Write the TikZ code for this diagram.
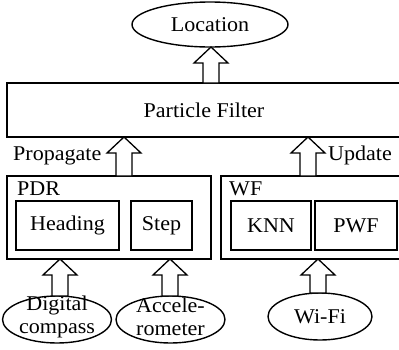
\documentclass[tikz,border=0pt]{standalone}
\usepackage{fontspec}
\setmainfont[FakeStretch=1.05]{Liberation Serif}
\usetikzlibrary{shapes.geometric,calc}
\tikzset{
  txt/.style={font=\fontsize{21}{23}\selectfont, inner sep=0pt, align=center},
  outerbox/.style={draw, line width=2.4pt, inner sep=0pt, outer sep=0pt},
  innerbox/.style={draw, line width=1.7pt, inner sep=0pt, outer sep=0pt},
  ell/.style={draw, ellipse, line width=1.4pt, inner sep=0pt, outer sep=0pt},
  blockarrow/.style={draw, line width=1.3pt, fill=white, line join=miter},
}
\newcommand\barrow[3]{%
  \draw[blockarrow] let \p1=(#2), \p2=(#3) in
    (#1pt-8pt,\y1) -- (#1pt-8pt,\y2-16pt) -- (#1pt-17pt,\y2-16pt) -- (#1pt,\y2)
    -- (#1pt+17pt,\y2-16pt) -- (#1pt+8pt,\y2-16pt) -- (#1pt+8pt,\y1) -- cycle;}
\begin{document}
\begin{tikzpicture}[x=1pt,y=-1pt]
\useasboundingbox (0,0) rectangle (399,349);
% top
\node[ell, minimum width=156, minimum height=45] (loc) at (210,24.5) {};
\node[txt] (loct) at (loc) {Location};
\node[outerbox, minimum width=394, minimum height=54] (pf) at (204,110) {};
\node[txt] (pft) at (pf) {Particle Filter};
% PDR
\node[outerbox, minimum width=204, minimum height=83] (pdr) at (109,217.5) {};
\node[txt, anchor=base west] (pdrt) at (17,195) {PDR};
\node[innerbox, minimum width=103, minimum height=49] (head) at (67.5,225.5) {};
\node[txt] (headt) at (head) {Heading};
\node[innerbox, minimum width=61, minimum height=49] (step) at (161.5,225.5) {};
\node[txt] (stept) at (step) {Step};
% WF
\node[outerbox, minimum width=180, minimum height=83] (wf) at (311,217.5) {};
\node[txt, anchor=base west] (wft) at (229,195) {WF};
\node[innerbox, minimum width=80, minimum height=49] (knn) at (271,225.5) {};
\node[txt] (knnt) at (knn) {KNN};
\node[innerbox, minimum width=82, minimum height=49] (pwf) at (356,225.5) {};
\node[txt] (pwft) at (pwf) {PWF};
% labels
\node[txt, anchor=base west] (prop) at (13,160) {Propagate};
\node[txt, anchor=base west] (upd) at (328,160) {Update};
% sensors
\node[ell, minimum width=109, minimum height=47] (dc) at (57,319.5) {};
\node[txt] (dct) at ($(dc)+(0,-3)$) {Digital\\compass};
\node[ell, minimum width=109, minimum height=47] (acc) at (170.5,319.5) {};
\node[txt] (acct) at ($(acc)+(0,-3)$) {Accele-\\rometer};
\node[ell, minimum width=104, minimum height=47] (wifi) at (320,316.5) {};
\node[txt] (wifit) at (wifi) {Wi-Fi};
% arrows
\barrow{211}{pf.north}{loc.south}
\barrow{124}{pdr.north}{pf.south}
\barrow{308}{wf.north}{pf.south}
\barrow{60}{dc.north}{pdr.south}
\barrow{170}{acc.north}{pdr.south}
\barrow{318}{wifi.north}{wf.south}
\end{tikzpicture}
\end{document}
